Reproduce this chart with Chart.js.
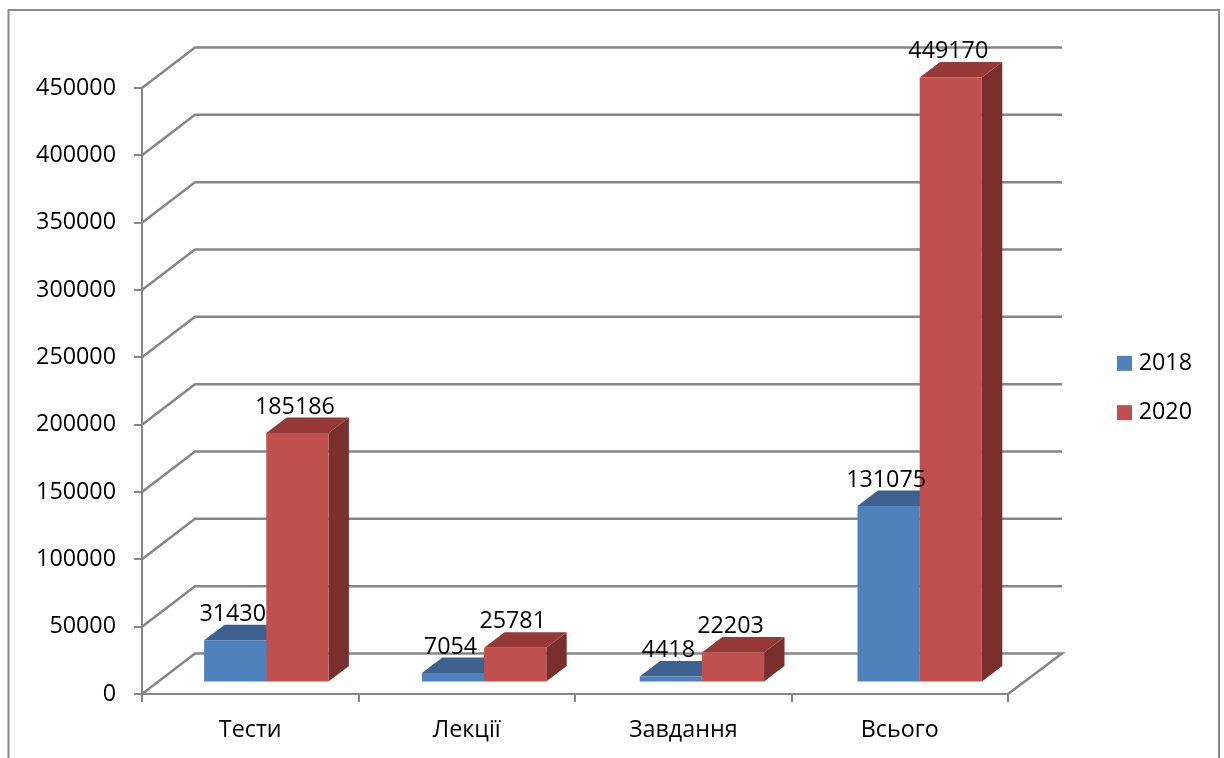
<!DOCTYPE html>
<html>
<head>
<meta charset="utf-8">
<script src="https://cdn.jsdelivr.net/npm/chart.js@4"></script>
<style>
    html, body { margin: 0; padding: 0; background: #fff; overflow: hidden; }
    canvas { display: block; }
</style>
</head>
<body>
<canvas id="chart" width="1224" height="758"></canvas>
<script>
const categories = ['Тести', 'Лекції', 'Завдання', 'Всього'];
const series2018 = [31430, 7054, 4418, 131075];
const series2020 = [185186, 25781, 22203, 449170];
const seriesNames = ['2018', '2020'];

const gridColor = '#868686';
const font = { family: '"Open Sans"', size: 23.3 };

const faces = [
    { front: '#4f81bd', top: '#3d6290', side: '#325078' },
    { front: '#c0504d', top: '#953a38', side: '#7b2f2d' }
];

// the fake 3d look: wall behind the axes, and bars pushed into the floor
const wall = { dx: 54, dy: 40.5 };
const bar3d = { dx: 20.4, dy: 15.5, shiftY: -11.5, scaleX: 1.006, shiftX: 14.55 };

const frame3d = {
    id: 'frame3d',
    beforeInit(chart) {
        const fit = chart.legend.fit;
        chart.legend.fit = function () {
            fit.call(this);
            this.width = 216;
        };
    },
    afterLayout(chart) {
        // legend sits well to the right of the floor
        chart.legend.left = 1091;
        chart.legend.right = 1192;
        chart.legend.top -= 35;
        chart.legend.bottom -= 35;
    },
    beforeDraw(chart) {
        const ctx = chart.ctx;
        ctx.save();
        ctx.strokeStyle = '#8a8a8a';
        ctx.lineWidth = 2;
        ctx.beginPath();
        ctx.moveTo(8.5, 758);
        ctx.lineTo(8.5, 10);
        ctx.lineTo(1219, 10);
        ctx.lineTo(1219, 758);
        ctx.stroke();
        ctx.restore();
    },
    beforeDatasetsDraw(chart) {
        const ctx = chart.ctx;
        const area = chart.chartArea;
        const y = chart.scales.y;

        ctx.save();
        ctx.strokeStyle = gridColor;
        ctx.lineWidth = 2.5;
        y.ticks.forEach(t => {
            const py = y.getPixelForValue(t.value);
            ctx.beginPath();
            ctx.moveTo(area.left, py);
            ctx.lineTo(area.left + wall.dx - 1, py - wall.dy);
            ctx.lineTo(area.right + wall.dx, py - wall.dy);
            if (t.value === 0) ctx.lineTo(area.right, py);
            ctx.stroke();
        });
        ctx.restore();

        // restored in afterDatasetsDraw
        ctx.save();
        ctx.transform(bar3d.scaleX, 0, 0, 1, bar3d.shiftX, bar3d.shiftY);
        const dx = bar3d.dx / bar3d.scaleX;
        const dy = bar3d.dy;
        chart.data.datasets.forEach((ds, i) => {
            chart.getDatasetMeta(i).data.forEach(el => {
                const l = el.x - el.width / 2;
                const r = el.x + el.width / 2;
                ctx.fillStyle = faces[i].side;
                ctx.beginPath();
                ctx.moveTo(r, el.y);
                ctx.lineTo(r + dx, el.y - dy);
                ctx.lineTo(r + dx, el.base - dy);
                ctx.lineTo(r, el.base);
                ctx.closePath();
                ctx.fill();
                ctx.fillStyle = faces[i].top;
                ctx.beginPath();
                ctx.moveTo(l, el.y);
                ctx.lineTo(l + dx, el.y - dy);
                ctx.lineTo(r + dx, el.y - dy);
                ctx.lineTo(r, el.y);
                ctx.closePath();
                ctx.fill();
            });
        });
    },
    afterDatasetsDraw(chart) {
        const ctx = chart.ctx;
        ctx.restore();

        ctx.save();
        ctx.fillStyle = '#000';
        ctx.font = font.size + 'px ' + font.family;
        ctx.textAlign = 'center';
        ctx.textBaseline = 'middle';
        chart.data.datasets.forEach((ds, i) => {
            chart.getDatasetMeta(i).data.forEach((el, j) => {
                const x = el.x * bar3d.scaleX + bar3d.shiftX - 2.5;
                ctx.fillText(String(ds.data[j]), x, el.y + bar3d.shiftY - 26);
            });
        });
        ctx.restore();
    }
};

new Chart(document.getElementById('chart'), {
    type: 'bar',
    data: {
        labels: categories,
        datasets: [
            { label: seriesNames[0], data: series2018, backgroundColor: faces[0].front, borderWidth: 0, clip: false },
            { label: seriesNames[1], data: series2020, backgroundColor: faces[1].front, borderWidth: 0, clip: false }
        ]
    },
    options: {
        responsive: false,
        animation: false,
        devicePixelRatio: 1,
        layout: { padding: { top: 88 } },
        categoryPercentage: 0.571,
        barPercentage: 1,
        scales: {
            x: {
                afterFit: s => { s.height = 64; },
                grid: { drawOnChartArea: false, color: gridColor, lineWidth: 2, tickLength: 8 },
                border: { color: gridColor, width: 2 },
                ticks: { color: '#000', font: font, padding: 14, maxRotation: 0 }
            },
            y: {
                min: 0,
                max: 450000,
                afterFit: s => { s.width = 142; },
                grid: { drawOnChartArea: false, color: gridColor, lineWidth: 2, tickLength: 8 },
                border: { color: gridColor, width: 2 },
                ticks: { color: '#000', font: font, stepSize: 50000, padding: 18, callback: v => String(v) }
            }
        },
        plugins: {
            tooltip: { enabled: false },
            legend: {
                position: 'right',
                labels: { boxWidth: 15, boxHeight: 15, padding: 26, font: font, color: '#000', textAlign: 'right' }
            }
        }
    },
    plugins: [frame3d]
});
</script>
</body>
</html>
